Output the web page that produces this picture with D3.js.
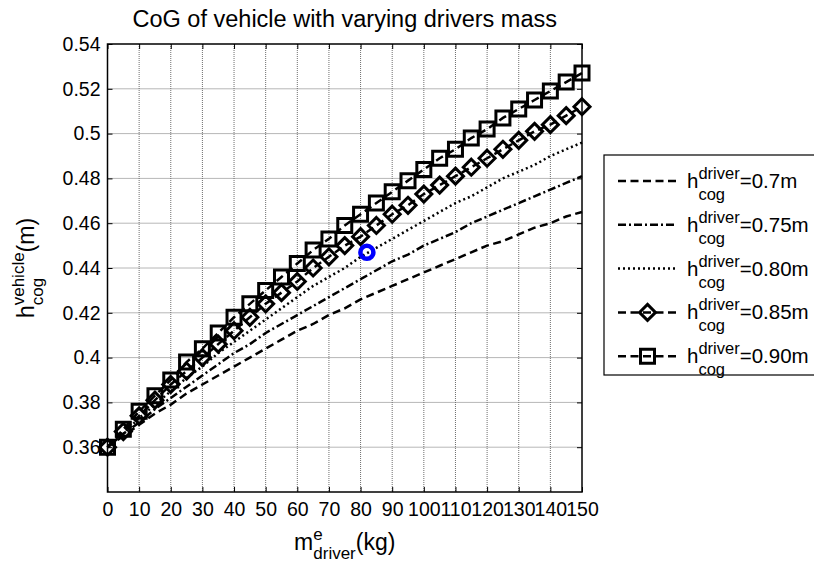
<!DOCTYPE html>
<html>
<head>
<meta charset="utf-8">
<script src="https://cdn.jsdelivr.net/npm/d3@7"></script>
<style>
  body { margin: 0; background: #fff; }
  svg { font-family: "Liberation Sans", Arial, sans-serif; }
</style>
</head>
<body>
<div id="chart"></div>
<script>
// driver mass (kg) on the x axis
const massKg = [0, 5, 10, 15, 20, 25, 30, 35, 40, 45, 50, 55, 60, 65, 70, 75,
    80, 85, 90, 95, 100, 105, 110, 115, 120, 125, 130, 135, 140, 145, 150];

// vehicle CoG height (m), one array per driver CoG height
const hDriver070 = [0.360, 0.365, 0.370, 0.375, 0.379, 0.384, 0.388, 0.392, 0.396, 0.400, 0.404,
    0.408, 0.412, 0.415, 0.419, 0.422, 0.426, 0.429, 0.432, 0.435, 0.438,
    0.441, 0.444, 0.447, 0.450, 0.452, 0.455, 0.458, 0.460, 0.463, 0.465];
const hDriver075 = [0.360, 0.366, 0.371, 0.377, 0.382, 0.387, 0.392, 0.397, 0.402, 0.406, 0.411,
    0.415, 0.419, 0.423, 0.427, 0.431, 0.435, 0.439, 0.443, 0.446, 0.450,
    0.453, 0.456, 0.460, 0.463, 0.466, 0.469, 0.472, 0.475, 0.478, 0.481];
const hDriver080 = [0.360, 0.366, 0.373, 0.379, 0.385, 0.391, 0.396, 0.402, 0.407, 0.412, 0.417,
    0.422, 0.427, 0.432, 0.436, 0.440, 0.445, 0.449, 0.453, 0.457, 0.461,
    0.465, 0.469, 0.472, 0.476, 0.480, 0.483, 0.486, 0.490, 0.493, 0.496];
const hDriver085 = [0.360, 0.367, 0.374, 0.381, 0.388, 0.394, 0.400, 0.406, 0.412, 0.418, 0.424,
    0.429, 0.434, 0.440, 0.445, 0.450, 0.454, 0.459, 0.464, 0.468, 0.473,
    0.477, 0.481, 0.485, 0.489, 0.493, 0.497, 0.501, 0.504, 0.508, 0.512];
const hDriver090 = [0.360, 0.368, 0.376, 0.383, 0.390, 0.398, 0.404, 0.411, 0.418, 0.424, 0.430,
    0.436, 0.442, 0.448, 0.453, 0.459, 0.464, 0.469, 0.474, 0.479, 0.484,
    0.489, 0.493, 0.498, 0.502, 0.507, 0.511, 0.515, 0.519, 0.523, 0.527];

const legendValues = ["=0.7m", "=0.75m", "=0.80m", "=0.85m", "=0.90m"];

// the single blue point
const markedPoint = { mass: 82, h: 0.447 };

const xTicks = [0, 10, 20, 30, 40, 50, 60, 70, 80, 90, 100, 110, 120, 130, 140, 150];
const yTicks = [0.36, 0.38, 0.40, 0.42, 0.44, 0.46, 0.48, 0.50, 0.52, 0.54];
const yTickLabels = ["0.36", "0.38", "0.4", "0.42", "0.44", "0.46", "0.48", "0.5", "0.52", "0.54"];

const width = 814;
const height = 568;
const margin = { top: 44, right: 232, bottom: 76, left: 107.5 };

const svg = d3.select("#chart").append("svg")
    .attr("width", width)
    .attr("height", height);

const x = d3.scaleLinear().domain([0, 150]).range([margin.left, width - margin.right]);
const y = d3.scaleLinear().domain([0.34, 0.54]).range([height - margin.bottom, margin.top]);

const [x0, x1] = x.range();
const [y0, y1] = y.range();

// grid (dotted)
svg.append("g")
    .selectAll("line")
    .data(xTicks.slice(1, -1))
    .join("line")
    .attr("x1", d => x(d)).attr("x2", d => x(d))
    .attr("y1", y1).attr("y2", y0)
    .style("stroke", "#6e6e6e")
    .style("stroke-width", 1)
    .style("stroke-dasharray", "1,1");

svg.append("g")
    .selectAll("line")
    .data(yTicks.slice(0, -1))
    .join("line")
    .attr("x1", x0).attr("x2", x1)
    .attr("y1", d => y(d)).attr("y2", d => y(d))
    .style("stroke", "#6e6e6e")
    .style("stroke-width", 1)
    .style("stroke-dasharray", "1,1");

// axes, ticks inside on all four sides
const tickLen = 5;
svg.append("g")
    .attr("transform", `translate(0,${y0})`)
    .call(d3.axisBottom(x).tickValues(xTicks).tickSizeInner(-tickLen).tickSizeOuter(0).tickPadding(10))
    .call(g => g.select(".domain").remove())
    .call(g => g.selectAll("text").style("font-size", "19.5px").style("fill", "#000"));

svg.append("g")
    .attr("transform", `translate(0,${y1})`)
    .call(d3.axisTop(x).tickValues(xTicks).tickSizeInner(-tickLen).tickSizeOuter(0).tickFormat(""))
    .call(g => g.select(".domain").remove());

svg.append("g")
    .attr("transform", `translate(${x0},0)`)
    .call(d3.axisLeft(y).tickValues(yTicks).tickSizeInner(-tickLen).tickSizeOuter(0).tickPadding(7)
        .tickFormat((d, i) => yTickLabels[i]))
    .call(g => g.select(".domain").remove())
    .call(g => g.selectAll("text").style("font-size", "19.5px").style("fill", "#000"));

svg.append("g")
    .attr("transform", `translate(${x1},0)`)
    .call(d3.axisRight(y).tickValues(yTicks).tickSizeInner(-tickLen).tickSizeOuter(0).tickFormat(""))
    .call(g => g.select(".domain").remove());

svg.selectAll(".tick line").style("stroke", "#000");

svg.append("rect")
    .attr("x", x0).attr("y", y1)
    .attr("width", x1 - x0).attr("height", y0 - y1)
    .style("fill", "none")
    .style("stroke", "#000")
    .style("stroke-width", 1.5);

// series
const series = [
    { values: hDriver070, dash: "8,4.5", marker: null },
    { values: hDriver075, dash: "8,3,2,3", marker: null },
    { values: hDriver080, dash: "2,3", marker: null },
    { values: hDriver085, dash: "8,4.5", marker: "diamond" },
    { values: hDriver090, dash: "8,4.5", marker: "square" }
];

const line = d3.line()
    .x((d, i) => x(massKg[i]))
    .y(d => y(d));

const diamondPath = "M0,-8L8,0L0,8L-8,0Z";
const squarePath = "M-7,-7H7V7H-7Z";

function drawMarker(g, kind, cx, cy) {
    if (!kind) return;
    g.append("path")
        .attr("d", kind === "diamond" ? diamondPath : squarePath)
        .attr("transform", `translate(${cx},${cy})`)
        .style("fill", "none")
        .style("stroke", "#000")
        .style("stroke-width", 3);
}

series.forEach(s => {
    const g = svg.append("g");
    g.append("path")
        .datum(s.values)
        .attr("d", line)
        .style("fill", "none")
        .style("stroke", "#000")
        .style("stroke-width", 2.5)
        .style("stroke-dasharray", s.dash);
    if (s.marker) {
        s.values.forEach((v, i) => drawMarker(g, s.marker, x(massKg[i]), y(v)));
    }
});

// blue point
svg.append("circle")
    .attr("cx", x(markedPoint.mass))
    .attr("cy", y(markedPoint.h))
    .attr("r", 6.5)
    .style("fill", "none")
    .style("stroke", "#0000ff")
    .style("stroke-width", 4.5);

// text with stacked super/subscript: base^sup_sub + tail
function richText(parent, parts, size, smallSize, supShift, subShift) {
    const g = parent.append("g");
    const base = g.append("text").attr("x", 0).attr("y", 0)
        .style("font-size", size + "px").text(parts.base);
    const w = base.node().getComputedTextLength();
    const sup = g.append("text").attr("x", w).attr("y", -supShift)
        .style("font-size", smallSize + "px").text(parts.sup);
    const sub = g.append("text").attr("x", w).attr("y", subShift)
        .style("font-size", smallSize + "px").text(parts.sub);
    const w2 = w + Math.max(sup.node().getComputedTextLength(), sub.node().getComputedTextLength());
    const tail = g.append("text").attr("x", w2).attr("y", 0)
        .style("font-size", size + "px").text(parts.tail);
    g.selectAll("text").style("fill", "#000");
    return { g, width: w2 + tail.node().getComputedTextLength() };
}

// title
svg.append("text")
    .attr("x", (x0 + x1) / 2)
    .attr("y", 27)
    .attr("text-anchor", "middle")
    .style("font-size", "23.5px")
    .text("CoG of vehicle with varying drivers mass");

// x label
const xl = svg.append("g");
const xlab = richText(xl, { base: "m", sup: "e", sub: "driver", tail: "(kg)" }, 23, 17, 10, 9);
xl.attr("transform", `translate(${(x0 + x1) / 2 - xlab.width / 2},550)`);

// y label
const yl = svg.append("g");
const ylab = richText(yl, { base: "h", sup: "vehicle", sub: "cog", tail: "(m)" }, 23, 17, 10, 9);
yl.attr("transform", `translate(34,${(y0 + y1) / 2 + ylab.width / 2}) rotate(-90)`);

// legend
const legend = svg.append("g");
const legTop = 155, legLeft = 604, rowGap = 43.8, firstRow = 181;
legend.append("rect")
    .attr("x", legLeft).attr("y", legTop)
    .attr("width", 240).attr("height", 220)
    .style("fill", "#fff")
    .style("stroke", "#000")
    .style("stroke-width", 1.2);

series.forEach((s, i) => {
    const ry = firstRow + i * rowGap;
    const row = legend.append("g");
    row.append("line")
        .attr("x1", 618).attr("x2", 677)
        .attr("y1", ry).attr("y2", ry)
        .style("stroke", "#000")
        .style("stroke-width", 2.5)
        .style("stroke-dasharray", s.dash);
    drawMarker(row, s.marker, 647.5, ry);
    const t = richText(row, { base: "h", sup: "driver", sub: "cog", tail: legendValues[i] }, 20.5, 16.5, 9, 12);
    t.g.attr("transform", `translate(687,${ry + 7})`);
});
</script>
</body>
</html>
